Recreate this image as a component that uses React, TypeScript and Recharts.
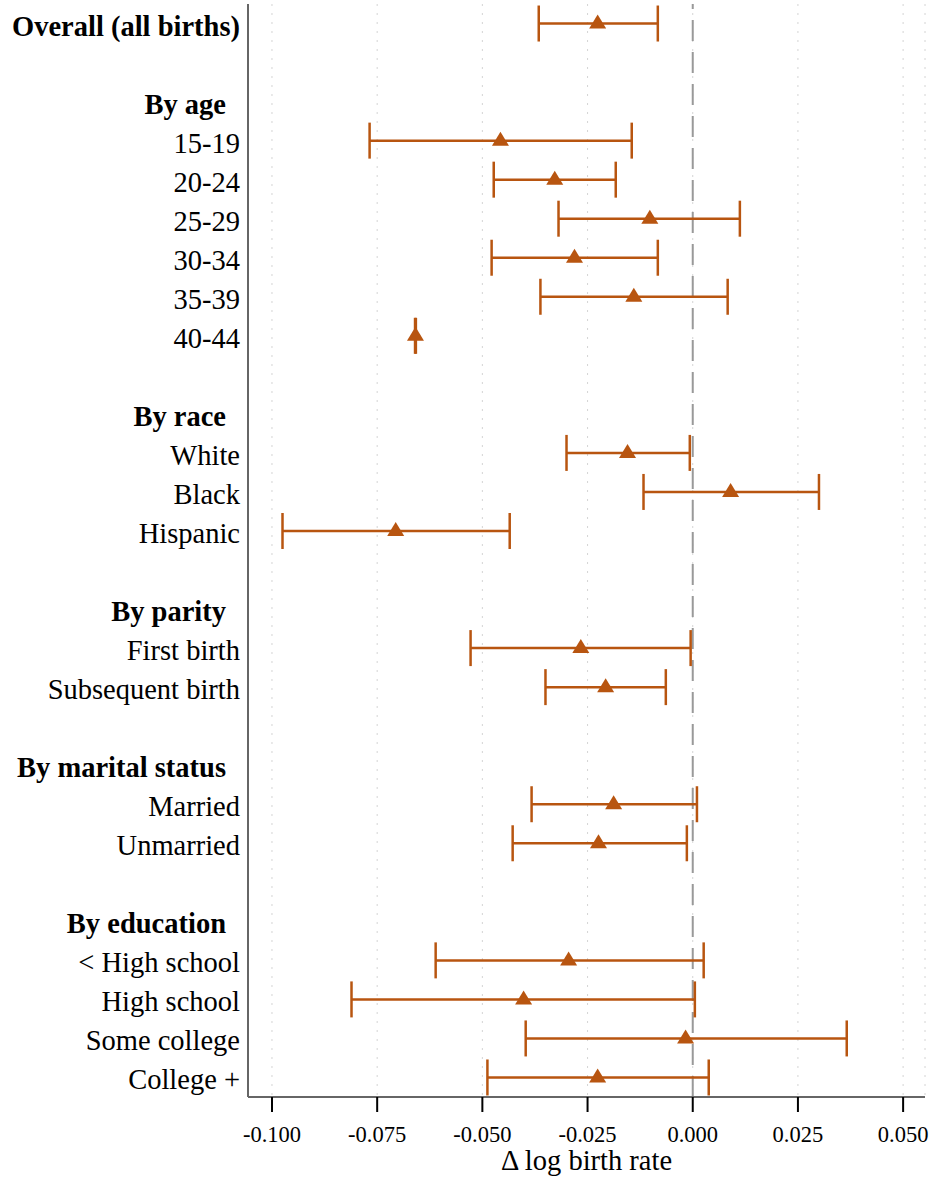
import React from 'react'
import { ScatterChart, Scatter, XAxis, YAxis, ErrorBar, CartesianGrid, ReferenceLine, Label } from 'recharts'

document.body.style.margin = '0'

// row labels top to bottom, '' = spacer row
const rowLabels = [
  'Overall (all births)', '',
  'By age', '15-19', '20-24', '25-29', '30-34', '35-39', '40-44', '',
  'By race', 'White', 'Black', 'Hispanic', '',
  'By parity', 'First birth', 'Subsequent birth', '',
  'By marital status', 'Married', 'Unmarried', '',
  'By education', '< High school', 'High school', 'Some college', 'College +'
]
const headings = ['Overall (all births)', 'By age', 'By race', 'By parity', 'By marital status', 'By education']

const estLabels = [
  'Overall (all births)', '15-19', '20-24', '25-29', '30-34', '35-39', '40-44',
  'White', 'Black', 'Hispanic', 'First birth', 'Subsequent birth',
  'Married', 'Unmarried', '< High school', 'High school', 'Some college', 'College +'
]
const estimates = [-0.0226, -0.0457, -0.0328, -0.0102, -0.0281, -0.014, -0.0659, -0.0155, 0.009, -0.0706, -0.0266, -0.0207, -0.0188, -0.0224, -0.0295, -0.0402, -0.0017, -0.0226]
const lower = [-0.0366, -0.0768, -0.0473, -0.0319, -0.0478, -0.0362, -0.066, -0.03, -0.0117, -0.0975, -0.0528, -0.035, -0.0383, -0.0428, -0.0611, -0.0811, -0.0397, -0.0488]
const upper = [-0.0083, -0.0145, -0.0183, 0.0112, -0.0083, 0.0083, -0.0658, -0.0007, 0.03, -0.0435, -0.0005, -0.0064, 0.001, -0.0014, 0.0026, 0.0005, 0.0366, 0.0038]
const xTicks = [-0.1, -0.075, -0.05, -0.025, 0, 0.025, 0.05]

const data = estLabels.map((name, i) => ({
  name,
  row: rowLabels.indexOf(name),
  est: estimates[i],
  err: [estimates[i] - lower[i], upper[i] - estimates[i]]
}))

const rowTicks = rowLabels.map((l, i) => (l ? i : -1)).filter(i => i >= 0)

const COLOR = '#b85510'
const FONT = '"Liberation Serif", "Times New Roman", serif'

const Triangle = (props: any) => {
  const { cx, cy } = props
  if (cx == null || cy == null) return null
  return <polygon points={`${cx},${cy - 9} ${cx - 8.5},${cy + 5} ${cx + 8.5},${cy + 5}`} fill={COLOR} />
}

const RowTick = (props: any) => {
  const { x, y, payload } = props
  const label = rowLabels[payload.value]
  const isHead = headings.includes(label)
  const indent = isHead && label !== 'Overall (all births)' ? -14 : 0
  return (
    <text x={x + indent} y={y} dy={12} textAnchor="end" fontFamily={FONT} fontSize={28.5}
      fontWeight={isHead ? 'bold' : 'normal'} fill="#000">
      {label}
    </text>
  )
}

export default function App() {
  return (
    <ScatterChart width={930} height={1178} margin={{ top: 4, right: 5, bottom: 0, left: 0 }}>
      <CartesianGrid horizontal={false} stroke="#d4d4d4" strokeDasharray="2 7" />
      <XAxis type="number" dataKey="est" domain={[-0.1057, 0.0552]} ticks={xTicks} allowDataOverflow
        height={81} tickSize={15} tickMargin={14} stroke="#666" strokeWidth={2}
        tickLine={{ stroke: '#000', strokeWidth: 2 }}
        tick={{ fontSize: 22.5, fill: '#000', fontFamily: FONT }}
        tickFormatter={(v: number) => v.toFixed(3)}>
        <Label value="Δ log birth rate" position="insideBottom" offset={8}
          style={{ fontSize: 28.5, fill: '#000', fontFamily: FONT }} />
      </XAxis>
      <YAxis type="number" dataKey="row" domain={[-0.5, 27.5]} reversed ticks={rowTicks} interval={0}
        width={248} tickSize={0} tickMargin={8} stroke="#666" strokeWidth={2} tickLine={false}
        tick={<RowTick />} />
      <ReferenceLine x={0} stroke="#999" strokeWidth={2} strokeDasharray="21 11" />
      <Scatter data={data} shape={<Triangle />} isAnimationActive={false}>
        <ErrorBar dataKey="err" direction="x" width={18} stroke={COLOR} strokeWidth={2.5} />
      </Scatter>
    </ScatterChart>
  )
}
